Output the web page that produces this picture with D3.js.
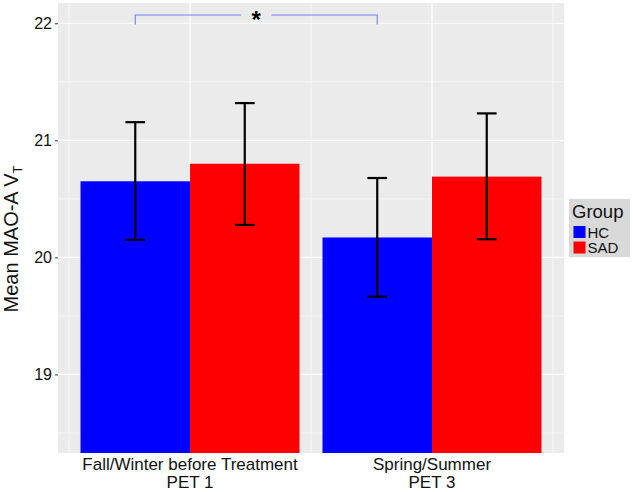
<!DOCTYPE html>
<html>
<head>
<meta charset="utf-8">
<script src="https://cdn.jsdelivr.net/npm/d3@7"></script>
<style>
  html, body { margin: 0; padding: 0; background: #ffffff; }
  svg { display: block; font-family: "Liberation Sans", Arial, sans-serif; }
</style>
</head>
<body>
<svg id="chart" width="633" height="492"></svg>
<script>
// ---- data ----
const categories = ["Fall/Winter before Treatment\nPET 1", "Spring/Summer\nPET 3"];
const groups = ["HC", "SAD"];
const groupColors = ["#0000ff", "#ff0000"];
const hcMeans = [20.65, 20.17];
const sadMeans = [20.80, 20.69];
const hcLower = [20.15, 19.665];
const hcUpper = [21.155, 20.678];
const sadLower = [20.277, 20.155];
const sadUpper = [21.318, 21.23];
const yTicks = [19, 20, 21, 22];
const yMinorTicks = [18.5, 19.5, 20.5, 21.5];
const yLabel = "Mean MAO-A V";
const yLabelSub = "T";
const legendTitle = "Group";
const sigLabel = "*";
const sigLevel = 22.07;
const sigTickEnd = 21.99;

// ---- layout ----
const svg = d3.select("#chart");
const panel = { left: 58, right: 564, top: 3, bottom: 453 };

const x = d3.scaleBand().domain(categories)
  .range([panel.left, panel.right]).paddingInner(0.095).paddingOuter(0.093);
const xSub = d3.scaleBand().domain(groups).range([0, x.bandwidth()]).padding(0);
const y = d3.scaleLinear().domain([18.329, 22.173]).range([panel.bottom, panel.top]);
const color = d3.scaleOrdinal().domain(groups).range(groupColors);

const rows = [];
categories.forEach((c, i) => {
  rows.push({ cat: c, group: "HC", mean: hcMeans[i], lo: hcLower[i], hi: hcUpper[i] });
  rows.push({ cat: c, group: "SAD", mean: sadMeans[i], lo: sadLower[i], hi: sadUpper[i] });
});

// clip
svg.append("defs").append("clipPath").attr("id", "clip")
  .append("rect").attr("x", panel.left).attr("y", panel.top)
  .attr("width", panel.right - panel.left).attr("height", panel.bottom - panel.top);

// panel background
svg.append("rect").attr("x", panel.left).attr("y", panel.top)
  .attr("width", panel.right - panel.left).attr("height", panel.bottom - panel.top)
  .attr("fill", "#ebebeb");

const grid = svg.append("g").attr("clip-path", "url(#clip)");
grid.selectAll("line.ymin").data(yMinorTicks).join("line")
  .attr("x1", panel.left).attr("x2", panel.right)
  .attr("y1", d => y(d)).attr("y2", d => y(d))
  .attr("stroke", "#fafafa").attr("stroke-width", 0.7);
grid.selectAll("line.ymaj").data(yTicks).join("line")
  .attr("x1", panel.left).attr("x2", panel.right)
  .attr("y1", d => y(d)).attr("y2", d => y(d))
  .attr("stroke", "#ffffff").attr("stroke-width", 1.2);
const step = x.step();
const centers = categories.map(c => x(c) + x.bandwidth() / 2);
const xMinor = [centers[0] - step / 2, centers[0] + step / 2, centers[1] + step / 2];
grid.selectAll("line.xmin").data(xMinor).join("line")
  .attr("x1", d => d).attr("x2", d => d).attr("y1", panel.top).attr("y2", panel.bottom)
  .attr("stroke", "#fafafa").attr("stroke-width", 0.7);
grid.selectAll("line.xmaj").data(centers).join("line")
  .attr("x1", d => d).attr("x2", d => d).attr("y1", panel.top).attr("y2", panel.bottom)
  .attr("stroke", "#ffffff").attr("stroke-width", 1.2);

// bars
const plot = svg.append("g").attr("clip-path", "url(#clip)");
plot.selectAll("rect.bar").data(rows).join("rect")
  .attr("x", d => x(d.cat) + xSub(d.group))
  .attr("width", xSub.bandwidth())
  .attr("y", d => y(d.mean))
  .attr("height", d => panel.bottom + 5 - y(d.mean))
  .attr("fill", d => color(d.group));

// error bars
const capW = xSub.bandwidth() * 0.18;
const eb = plot.selectAll("g.eb").data(rows).join("g")
  .attr("transform", d => `translate(${x(d.cat) + xSub(d.group) + xSub.bandwidth() / 2},0)`);
eb.append("line").attr("x1", 0).attr("x2", 0)
  .attr("y1", d => y(d.lo)).attr("y2", d => y(d.hi))
  .attr("stroke", "#000").attr("stroke-width", 2.2);
eb.append("line").attr("x1", -capW / 2).attr("x2", capW / 2)
  .attr("y1", d => y(d.hi)).attr("y2", d => y(d.hi))
  .attr("stroke", "#000").attr("stroke-width", 2.2);
eb.append("line").attr("x1", -capW / 2).attr("x2", capW / 2)
  .attr("y1", d => y(d.lo)).attr("y2", d => y(d.lo))
  .attr("stroke", "#000").attr("stroke-width", 2.2);

// significance bracket (HC PET1 vs HC PET3)
const bx1 = x(categories[0]) + xSub("HC") + xSub.bandwidth() / 2;
const bx2 = x(categories[1]) + xSub("HC") + xSub.bandwidth() / 2;
const bmid = (bx1 + bx2) / 2;
const gap = 15;
const br = svg.append("g").attr("stroke", "#7b7bf0").attr("stroke-width", 1.1).attr("fill", "none");
br.append("path").attr("d",
  `M${bx1},${y(sigTickEnd)}V${y(sigLevel)}H${bmid - gap}`);
br.append("path").attr("d",
  `M${bmid + gap},${y(sigLevel)}H${bx2}V${y(sigTickEnd)}`);
svg.append("text").attr("x", bmid).attr("y", y(sigLevel) + 13)
  .attr("text-anchor", "middle").attr("font-size", 24).attr("font-weight", "bold")
  .attr("fill", "#000").text(sigLabel);

// y axis
const yAxisG = svg.append("g").attr("transform", `translate(${panel.left},0)`)
  .call(d3.axisLeft(y).tickValues(yTicks).tickSize(3).tickPadding(3).tickFormat(d3.format("d")));
yAxisG.select(".domain").remove();
yAxisG.selectAll(".tick line").attr("stroke", "#333");
yAxisG.selectAll(".tick text").attr("font-size", 16).attr("fill", "#111")
  .attr("font-family", "'Liberation Sans', Arial, sans-serif");

// x axis labels
const xAxisG = svg.append("g").attr("transform", `translate(0,${panel.bottom})`)
  .call(d3.axisBottom(x).tickSize(0).tickFormat(""));
xAxisG.select(".domain").remove();
xAxisG.selectAll(".tick").each(function (d) {
  const t = d3.select(this).append("text").attr("text-anchor", "middle")
    .attr("font-size", 17).attr("fill", "#111");
  d.split("\n").forEach((line, i) => {
    t.append("tspan").attr("x", 0).attr("y", 17 + i * 17.7).text(line);
  });
});

// y label
const yl = svg.append("text").attr("transform", "translate(17.5,239) rotate(-90)")
  .attr("text-anchor", "middle").attr("font-size", 20).attr("fill", "#111");
yl.append("tspan").text(yLabel);
yl.append("tspan").attr("font-size", 13).attr("dy", 4).text(yLabelSub);

// legend
const lg = svg.append("g").attr("transform", "translate(569,199)");
lg.append("rect").attr("width", 61).attr("height", 58).attr("fill", "#d9d9d9");
lg.append("text").attr("x", 3).attr("y", 19).attr("font-size", 18.5).attr("fill", "#111").text(legendTitle);
const items = lg.selectAll("g.item").data(groups).join("g")
  .attr("transform", (d, i) => `translate(4.5,${26 + i * 15.5})`);
items.append("rect").attr("y", 1).attr("width", 12).attr("height", 12).attr("fill", d => color(d));
items.append("text").attr("x", 14).attr("y", 12.5).attr("font-size", 15).attr("fill", "#111").text(d => d);
</script>
</body>
</html>
